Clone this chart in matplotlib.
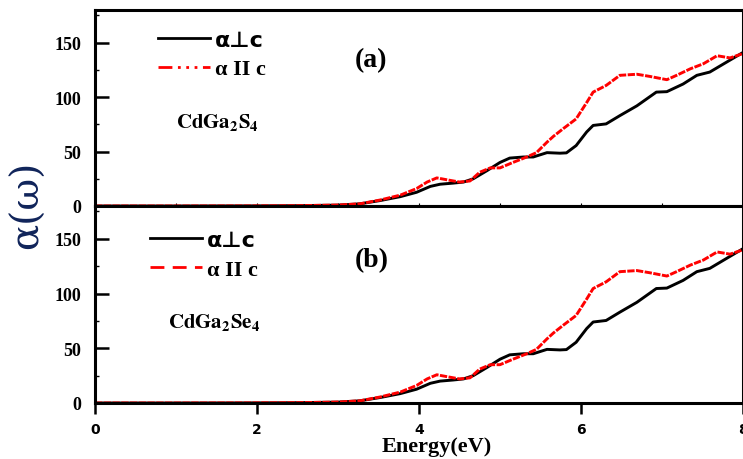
import matplotlib
matplotlib.use("Agg")
import matplotlib.pyplot as plt
from matplotlib.lines import Line2D
from matplotlib.ticker import MultipleLocator

# energy grid (eV) and absorption
energy_perp = [0, 1, 2, 2.5, 3.0, 3.27, 3.52, 3.77, 3.97, 4.14, 4.26, 4.42, 4.55,
               4.67, 4.84, 5.0, 5.12, 5.29, 5.41, 5.58, 5.74, 5.82, 5.94, 6.07,
               6.15, 6.31, 6.48, 6.69, 6.93, 7.06, 7.26, 7.43, 7.59, 7.84, 8.0]
alpha_perp = [0, 0, 0.1, 0.3, 0.8, 2, 5, 8.6, 12.6, 18, 20, 21, 22,
              25, 32.5, 40, 44, 45, 45, 49, 48.5, 48.8, 55.5, 68,
              74, 75.4, 83, 92, 104.6, 105, 112, 120, 123, 134, 141]

energy_par = [0, 1, 2, 2.5, 3.0, 3.27, 3.52, 3.77, 3.97, 4.1, 4.22, 4.35, 4.5,
              4.63, 4.75, 4.88, 5.0, 5.16, 5.33, 5.45, 5.58, 5.66, 5.78, 5.94,
              6.07, 6.15, 6.31, 6.48, 6.69, 6.85, 7.06, 7.18, 7.35, 7.51, 7.68,
              7.84, 8.0]
alpha_par = [0, 0, 0.1, 0.3, 0.9, 2, 5.5, 10, 16, 22, 25.8, 24, 22,
             23, 31, 35, 35, 40, 45, 49, 58.6, 64, 71, 80,
             95, 104.6, 110.7, 120, 121, 119, 116, 120, 126, 130.6, 138,
             136, 140]

panels = ["(a)", "(b)"]
compounds = [r"$\mathbf{CdGa_2S_4}$", r"$\mathbf{CdGa_2Se_4}$"]
labels = ["\u03b1\u22a5c", "\u03b1 II c"]
xticks = [0, 2, 4, 6, 8]
yticks = [0, 50, 100, 150]

plt.rcParams["mathtext.fontset"] = "stix"
plt.rcParams["font.family"] = "Liberation Serif"

fig = plt.figure(figsize=(7.43, 4.60), dpi=100)
ax1 = fig.add_axes([95 / 743, 1 - 207 / 460, 648 / 743, 196 / 460])
ax2 = fig.add_axes([95 / 743, 1 - 404 / 460, 648 / 743, 197 / 460])

legend_dash = [(0, (5, 2, 1, 2, 1, 2, 1, 2)), (0, (5, 3))]
legend_pos = [(0.097, 0.90), (0.085, 0.88)]
comp_pos = [(0.125, 0.43), (0.113, 0.416)]
tag_pos = [(0.426, 0.745), (0.427, 0.726)]

for i, ax in enumerate([ax1, ax2]):
    ax.plot(energy_perp, alpha_perp, color="black", lw=2.1)
    ax.plot(energy_par, alpha_par, color="red", lw=2.1, linestyle=(0, (2.5, 0.5)))
    ax.set_xlim(0, 8)
    ax.set_ylim(0, 180)
    for s in ax.spines.values():
        s.set_linewidth(2.2)
    ax.set_yticks(yticks)
    ax.yaxis.set_minor_locator(MultipleLocator(25))
    ax.tick_params(axis="y", which="major", direction="in", length=10, width=1.8, pad=10)
    ax.tick_params(axis="y", which="minor", direction="in", length=3, width=1)
    for t in ax.get_yticklabels():
        t.set_fontweight("bold")
        t.set_fontsize(13)

    handles = [Line2D([], [], color="black", lw=2),
               Line2D([], [], color="red", lw=2, linestyle=legend_dash[i])]
    leg = ax.legend(handles, labels, loc="upper left", bbox_to_anchor=legend_pos[i],
                    frameon=False, fontsize=16, handlelength=2.35, handletextpad=0.2,
                    labelspacing=0.42, borderpad=0, borderaxespad=0)
    leg.get_texts()[0].set_fontfamily("DejaVu Sans")
    leg.get_texts()[0].set_fontweight("bold")
    leg.get_texts()[1].set_fontweight("bold")

    ax.text(tag_pos[i][0], tag_pos[i][1], panels[i], transform=ax.transAxes,
            fontsize=20, fontweight="bold", ha="center", va="center")
    ax.text(comp_pos[i][0], comp_pos[i][1], compounds[i], transform=ax.transAxes,
            fontsize=15, ha="left", va="center")

ax1.set_xticks(xticks)
ax1.xaxis.set_minor_locator(MultipleLocator(1))
ax1.tick_params(axis="x", which="both", direction="in", length=2, width=0.8,
                labelbottom=False)

ax2.set_xticks(xticks)
ax2.tick_params(axis="x", direction="out", length=8, width=1.8, pad=6)
for t in ax2.get_xticklabels():
    t.set_fontfamily("DejaVu Sans")
    t.set_fontweight("bold")
    t.set_fontsize(10)

fig.text(437 / 743, 1 - 447 / 460, "Energy(eV)", fontsize=16, fontweight="bold",
         ha="center", va="center")
fig.text(27 / 743, 1 - 205 / 460, "\u03b1(\u03c9)", fontsize=28, rotation=90,
         color="#10245a", family="DejaVu Serif", ha="center", va="center")

fig.savefig("out.png", dpi=100)
